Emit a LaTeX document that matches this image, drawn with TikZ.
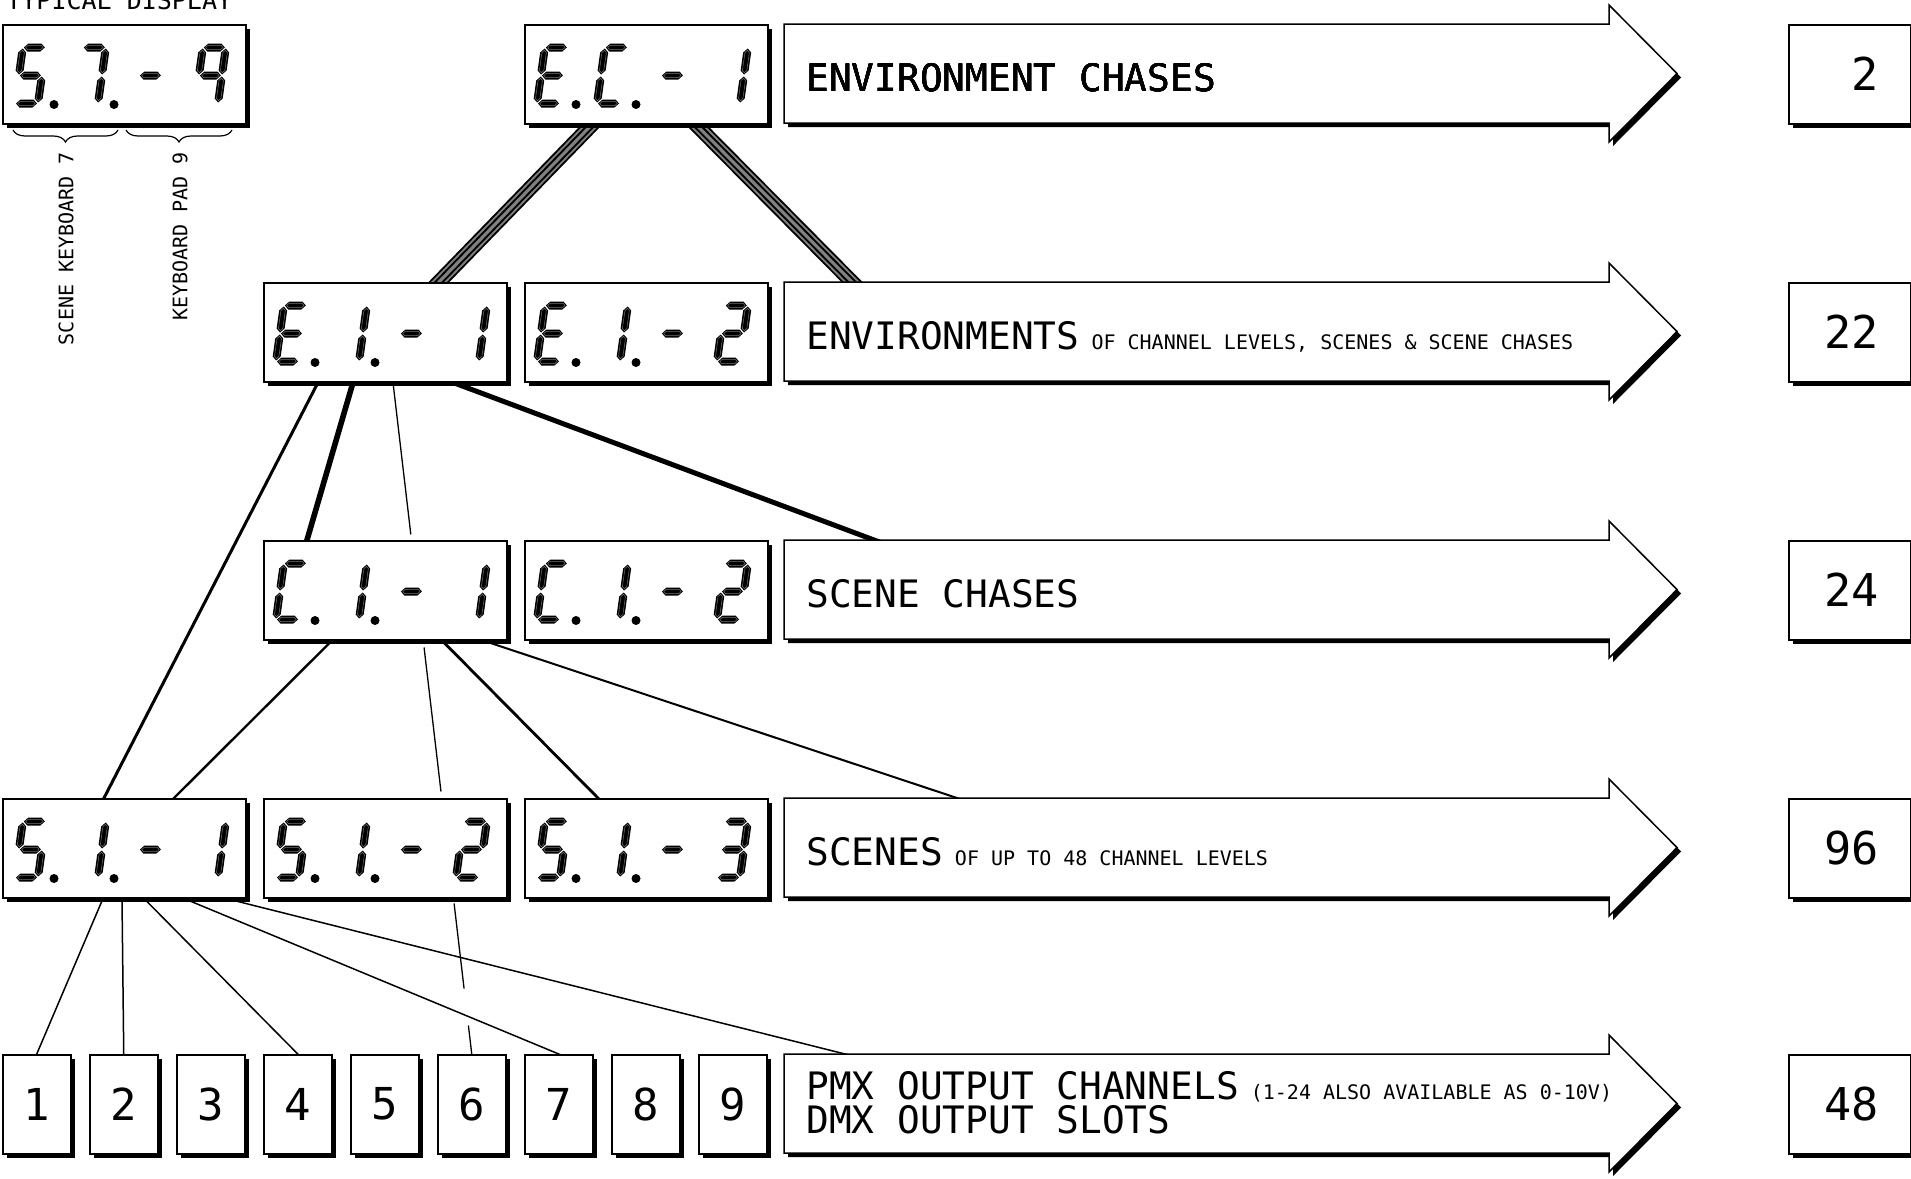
\documentclass[tikz,border=0pt]{standalone}
\usepackage{fontspec}
\newfontfamily\cadfont{DejaVu Sans Mono}
\usetikzlibrary{calc,shadows,decorations.pathreplacing}
\pgfdeclarelayer{bg}
\pgfsetlayers{bg,main}

\tikzset{segline/.style={draw=white!45!black, line width=0.25pt}}
\newcommand\smalltxt{\fontsize{10}{12}\selectfont}

% seven segment pieces, local units: u to the right, v upwards
\newcommand\hseg[3]{%
  \fill (#1,#3) -- (#1+4,#3+4) -- (#2-4,#3+4) -- (#2,#3) -- (#2-4,#3-4) -- (#1+4,#3-4) -- cycle;
  \draw[segline] (#1+1.8,#3) -- (#1+4,#3+2.2) -- (#2-4,#3+2.2) -- (#2-1.8,#3) -- (#2-4,#3-2.2) -- (#1+4,#3-2.2) -- cycle;}
\newcommand\vseg[3]{%
  \fill (#1,#2) -- (#1+4,#2+4) -- (#1+4,#3-4) -- (#1,#3) -- (#1-4,#3-4) -- (#1-4,#2+4) -- cycle;
  \draw[segline] (#1,#2+1.8) -- (#1+2.2,#2+4) -- (#1+2.2,#3-4) -- (#1,#3-1.8) -- (#1-2.2,#3-4) -- (#1-2.2,#2+4) -- cycle;}
\newcommand\sgA{\hseg{1}{22}{56}}
\newcommand\sgB{\vseg{23}{29}{55}}
\newcommand\sgC{\vseg{23}{1}{27}}
\newcommand\sgD{\hseg{1}{22}{0}}
\newcommand\sgE{\vseg{0}{1}{27}}
\newcommand\sgF{\vseg{0}{29}{55}}
\newcommand\sgG{\hseg{1}{22}{28}}
% characters
\expandafter\def\csname chS\endcsname{\sgA\sgF\sgG\sgC\sgD}
\expandafter\def\csname chE\endcsname{\sgA\sgF\sgG\sgE\sgD}
\expandafter\def\csname chC\endcsname{\sgA\sgF\sgE\sgD}
\expandafter\def\csname ch-\endcsname{\sgG}
\expandafter\def\csname ch1\endcsname{\sgB\sgC}
\expandafter\def\csname ch2\endcsname{\sgA\sgB\sgG\sgE\sgD}
\expandafter\def\csname ch3\endcsname{\sgA\sgB\sgG\sgC\sgD}
\expandafter\def\csname ch7\endcsname{\sgA\sgB\sgC}
\expandafter\def\csname ch9\endcsname{\sgA\sgB\sgC\sgF\sgG}

% display box: name, top left corner, four characters (dots after the first two)
\newcommand\segdisplay[6]{%
  \node[dispbox] (#1) at (#2) {};
  \foreach \cc [count=\k from 0] in {#3,#4,#5,#6}{%
    \begin{scope}[shift={($(#1.south west)+(13+60*\k,-21)$)}]
      \begin{scope}[y=0.5pt, xslant=0.14]
        \csname ch\cc\endcsname
      \end{scope}
    \end{scope}}
  \fill ($(#1.south west)+(52,-20)$) circle (4.5);
  \fill ($(#1.south west)+(112,-20)$) circle (4.5);
}
% arrow of one row, from its top edge
\newcommand\rowarrow[1]{%
  \path[shadebox] (784,#1) -- (1609,#1) -- (1609,#1-19) -- (1677,#1+49.5) -- (1609,#1+118) -- (1609,#1+99) -- (784,#1+99) -- cycle;}
% striped band
\newcommand\band[2]{%
  \foreach \w/\c in {7.5pt/black,5.6pt/white!50!black,3.6pt/black,1.6pt/white!50!black}{
    \draw[line width=\w, \c, shorten <=-5pt, shorten >=-5pt] (#1) -- (#2);}}

\begin{document}
\begin{tikzpicture}[x=0.5pt, y=-0.5pt,
  shadebox/.style={draw, fill=white, line width=0.75pt, drop shadow={shadow xshift=2pt, shadow yshift=-2pt, opacity=1, fill=black}},
  dispbox/.style={shadebox, anchor=north west, inner sep=0pt, minimum width=121.5pt, minimum height=49.5pt},
  outbox/.style={shadebox, anchor=north west, inner sep=0pt, minimum width=34pt, minimum height=49.5pt, font=\cadfont\fontsize{22}{26}\selectfont},
  numbox/.style={shadebox, anchor=north west, inner sep=0pt, minimum width=61pt, minimum height=49.5pt},
  bigtxt/.style={anchor=base west, inner sep=0pt, font=\cadfont\fontsize{18.9}{22}\selectfont},
  numtxt/.style={anchor=base east, inner sep=0pt, font=\cadfont\fontsize{22.6}{26}\selectfont},
  lbl/.style={inner sep=0pt, font=\cadfont\smalltxt},
  link/.style={shorten <=-4pt, shorten >=-4pt}]
\useasboundingbox (0,0) rectangle (1911,1178);

% typical display
\node[lbl, anchor=base west, font=\cadfont\fontsize{12.5}{15}\selectfont] (title) at (6,10) {TYPICAL DISPLAY};
\segdisplay{tdisp}{2,24}{S}{7}{-}{9}
\draw[decorate, decoration={brace, amplitude=6pt, mirror}, line width=0.6pt] (13,130) -- (118,130);
\draw[decorate, decoration={brace, amplitude=6pt, mirror}, line width=0.6pt] (126,130) -- (232,130);
\node[lbl, rotate=90, anchor=east] (scenekb) at (66,152) {SCENE KEYBOARD 7};
\node[lbl, rotate=90, anchor=east] (padkb) at (180,152) {KEYBOARD PAD 9};

% displays
\segdisplay{ec1}{524,24}{E}{C}{-}{1}
\segdisplay{e11}{263,282}{E}{1}{-}{1}
\segdisplay{e12}{524,282}{E}{1}{-}{2}
\segdisplay{c11}{263,540}{C}{1}{-}{1}
\segdisplay{c12}{524,540}{C}{1}{-}{2}
\segdisplay{s11}{2,798}{S}{1}{-}{1}
\segdisplay{s12}{263,798}{S}{1}{-}{2}
\segdisplay{s13}{524,798}{S}{1}{-}{3}
\foreach \i in {1,...,9}
  \node[outbox] (out\i) at ({2+87*(\i-1)},1054) {\i};

% arrows and texts
\foreach \y in {24,282,540,798,1054}
  \rowarrow{\y}
\node[bigtxt] (txtec) at (806,91) {ENVIRONMENT CHASES};
\node[bigtxt] (txtenv) at (806,349) {ENVIRONMENTS{\smalltxt\ OF CHANNEL LEVELS, SCENES \& SCENE CHASES}};
\node[bigtxt] (txtchase) at (806,607) {SCENE CHASES};
\node[bigtxt] (txtscene) at (806,865) {SCENES{\smalltxt\ OF UP TO 48 CHANNEL LEVELS}};
\node[bigtxt] (txtpmx) at (806,1099) {PMX OUTPUT CHANNELS{\smalltxt\ (1-24 ALSO AVAILABLE AS 0-10V)}};
\node[bigtxt] (txtdmx) at (806,1133) {DMX OUTPUT SLOTS};
\coordinate (arr2) at (852,282);
\coordinate (arr3) at (874,540);
\coordinate (arr4) at (957,798);
\coordinate (arr5) at (845,1054);

% totals
\foreach \y/\n [count=\r] in {24/2,282/22,540/24,798/96,1054/48}{
  \node[numbox] (nb\r) at (1788,\y) {};
  \node[numtxt] (num\r) at (1879,\y+66) {\n};}

% connectors
\begin{pgfonlayer}{bg}
\band{$(ec1.south west)+(68,0)$}{$(e11.north west)+(176,0)$}
\band{$(ec1.south west)+(172,0)$}{arr2}
\draw[link, line width=1.5pt] ($(e11.south west)+(55,0)$) -- ($(s11.north west)+(102,0)$);
\draw[link, line width=2.8pt] ($(e11.south west)+(90,0)$) -- ($(c11.north west)+(44,0)$);
\draw[line width=0.65pt, dash pattern=on 76.5pt off 56.9pt on 72.5pt off 56.4pt on 42.8pt off 18.6pt on 30pt]
  ($(e11.south west)+(130,0)$) -- (out6.north);
\draw[link, line width=2.5pt] ($(e11.south west)+(190,0)$) -- (arr3);
\draw[link, line width=1.2pt] ($(c11.south west)+(69,0)$) -- ($(s11.north west)+(172,0)$);
\draw[link, line width=1.4pt] ($(c11.south west)+(179,0)$) -- ($(s13.north west)+(74,0)$);
\draw[link, line width=1pt] ($(c11.south west)+(220,0)$) -- (arr4);
\draw[link, line width=0.75pt] ($(s11.south west)+(101,0)$) -- (out1.north);
\draw[link, line width=0.75pt] ($(s11.south west)+(120,0)$) -- (out2.north);
\draw[link, line width=0.75pt] ($(s11.south west)+(142,0)$) -- (out4.north);
\draw[link, line width=0.75pt] ($(s11.south west)+(182,0)$) -- (out7.north);
\draw[link, line width=0.75pt] ($(s11.south west)+(224,0)$) -- (arr5);
\end{pgfonlayer}
\end{tikzpicture}
\end{document}
